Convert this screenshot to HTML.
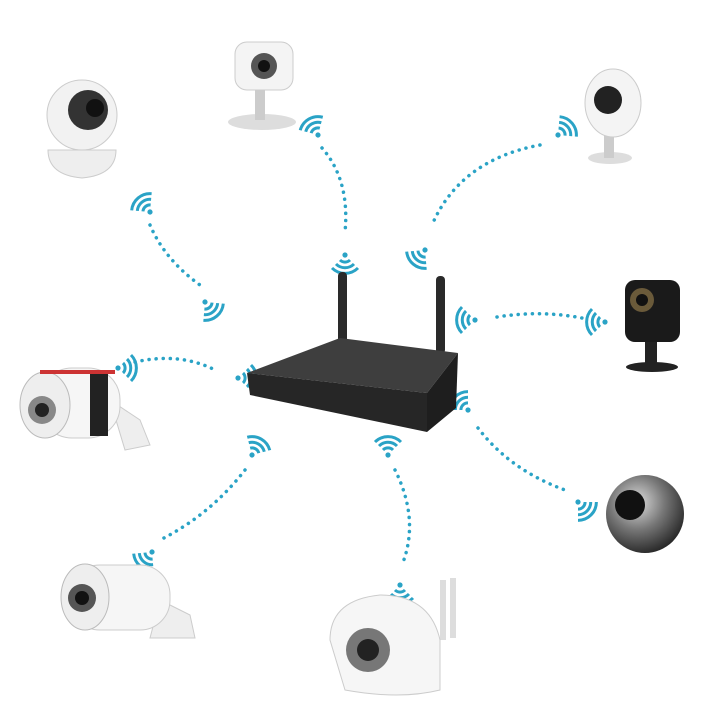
<!DOCTYPE html>
<html><head><style>html,body{margin:0;padding:0;background:#fff}svg{display:block}</style></head>
<body>
<svg width="726" height="726" viewBox="0 0 726 726" xmlns="http://www.w3.org/2000/svg">
<defs>
<g id="wf">
<circle cx="0" cy="0" r="2.6" fill="#2aa3c6"/>
<path d="M-5,-5 A7,7 0 0 1 5,-5" stroke="#2aa3c6" stroke-width="3" fill="none"/>
<path d="M-9,-9 A12.7,12.7 0 0 1 9,-9" stroke="#2aa3c6" stroke-width="3" fill="none"/>
<path d="M-13,-13 A18.4,18.4 0 0 1 13,-13" stroke="#2aa3c6" stroke-width="3" fill="none"/>
</g>
<radialGradient id="sph" cx="0.4" cy="0.35" r="0.7"><stop offset="0" stop-color="#ddd"/><stop offset="0.5" stop-color="#777"/><stop offset="1" stop-color="#222"/></radialGradient>
</defs>
<g stroke="#2aa3c6" stroke-width="3.5" fill="none" stroke-dasharray="0.1 7" stroke-linecap="round">
<path d="M150,225 Q165,260 200,285"/>
<path d="M322,148 Q350,180 345,232"/>
<path d="M540,145 Q460,160 432,225"/>
<path d="M497,317 Q540,310 582,318"/>
<path d="M135,362 Q180,352 215,370"/>
<path d="M478,428 Q510,470 565,490"/>
<path d="M395,470 Q420,520 402,565"/>
<path d="M245,470 Q210,515 160,540"/>
</g>
<use href="#wf" transform="translate(150,212) rotate(-40)"/>
<use href="#wf" transform="translate(205,302) rotate(140)"/>
<use href="#wf" transform="translate(318,135) rotate(-30)"/>
<use href="#wf" transform="translate(345,255) rotate(180)"/>
<use href="#wf" transform="translate(558,135) rotate(50)"/>
<use href="#wf" transform="translate(425,250) rotate(-140)"/>
<use href="#wf" transform="translate(475,320) rotate(-90)"/>
<use href="#wf" transform="translate(605,322) rotate(-90)"/>
<use href="#wf" transform="translate(118,368) rotate(90)"/>
<use href="#wf" transform="translate(238,378) rotate(90)"/>
<use href="#wf" transform="translate(468,410) rotate(-45)"/>
<use href="#wf" transform="translate(578,502) rotate(135)"/>
<use href="#wf" transform="translate(388,455) rotate(0)"/>
<use href="#wf" transform="translate(400,585) rotate(180)"/>
<use href="#wf" transform="translate(252,455) rotate(30)"/>
<use href="#wf" transform="translate(152,552) rotate(-140)"/>
<!-- NVR -->
<rect x="338" y="272" width="9" height="72" rx="4" fill="#2a2a2a"/>
<rect x="436" y="276" width="9" height="78" rx="4" fill="#2a2a2a"/>
<polygon points="247,373 340,338 458,353 427,393" fill="#3e3e3e"/>
<polygon points="247,373 427,393 427,432 250,395" fill="#262626"/>
<polygon points="427,393 458,353 456,408 427,432" fill="#1e1e1e"/>
<!-- top-left pan tilt -->
<path d="M48,150 Q48,175 82,178 Q116,175 116,150 Z" fill="#eee" stroke="#ccc"/>
<circle cx="82" cy="115" r="35" fill="#f2f2f2" stroke="#ccc"/>
<circle cx="88" cy="110" r="20" fill="#333"/>
<circle cx="95" cy="108" r="9" fill="#111"/>
<!-- top mini -->
<ellipse cx="262" cy="122" rx="34" ry="8" fill="#ddd"/>
<rect x="255" y="85" width="10" height="35" fill="#ccc"/>
<rect x="235" y="42" width="58" height="48" rx="12" fill="#f4f4f4" stroke="#ccc"/>
<circle cx="264" cy="66" r="13" fill="#555"/><circle cx="264" cy="66" r="6" fill="#111"/>
<!-- top right egg -->
<ellipse cx="610" cy="158" rx="22" ry="6" fill="#ddd"/>
<rect x="604" y="125" width="10" height="33" fill="#ccc"/>
<ellipse cx="613" cy="103" rx="28" ry="34" fill="#f4f4f4" stroke="#ccc"/>
<circle cx="608" cy="100" r="14" fill="#222"/>
<!-- right black cube -->
<ellipse cx="652" cy="367" rx="26" ry="5" fill="#222"/>
<rect x="645" y="340" width="12" height="25" fill="#222"/>
<rect x="625" y="280" width="55" height="62" rx="10" fill="#1a1a1a"/>
<circle cx="642" cy="300" r="12" fill="#6a5a3a"/><circle cx="642" cy="300" r="6" fill="#111"/>
<!-- sphere -->
<circle cx="645" cy="514" r="39" fill="url(#sph)"/>
<circle cx="630" cy="505" r="15" fill="#111"/>
<!-- left bullet with red -->
<path d="M110,400 L140,420 L150,445 L125,450 Z" fill="#eee" stroke="#ccc"/>
<rect x="40" y="368" width="80" height="70" rx="32" fill="#f6f6f6" stroke="#ccc"/>
<rect x="90" y="370" width="18" height="66" fill="#222"/>
<ellipse cx="45" cy="405" rx="25" ry="33" fill="#eee" stroke="#bbb"/>
<circle cx="42" cy="410" r="14" fill="#888"/><circle cx="42" cy="410" r="7" fill="#222"/>
<path d="M40,372 L115,372" stroke="#c33" stroke-width="4"/>
<!-- bottom left bullet -->
<path d="M160,600 L190,615 L195,638 L150,638 Z" fill="#eee" stroke="#ccc"/>
<rect x="70" y="565" width="100" height="65" rx="30" fill="#f6f6f6" stroke="#ccc"/>
<ellipse cx="85" cy="597" rx="24" ry="33" fill="#eee" stroke="#bbb"/>
<circle cx="82" cy="598" r="14" fill="#555"/><circle cx="82" cy="598" r="7" fill="#111"/>
<!-- bottom center -->
<rect x="440" y="580" width="6" height="60" fill="#ddd"/>
<rect x="450" y="578" width="6" height="60" fill="#ddd"/>
<path d="M330,640 Q330,600 380,595 Q430,595 440,640 L440,690 Q400,700 345,690 Z" fill="#f6f6f6" stroke="#ccc"/>
<circle cx="368" cy="650" r="22" fill="#777"/><circle cx="368" cy="650" r="11" fill="#222"/>
</svg>
</body></html>
